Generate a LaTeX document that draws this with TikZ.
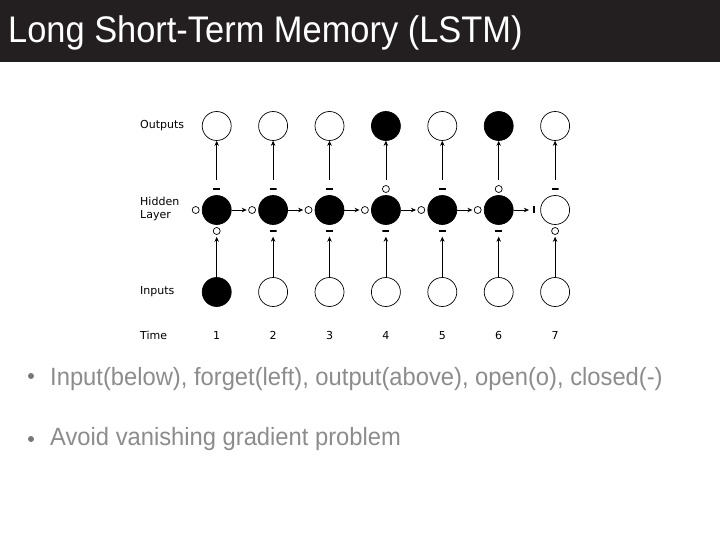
\documentclass[tikz,border=0pt]{standalone}
\usepackage{fontspec}
\setmainfont{Liberation Sans}
\newfontfamily\figfont{DejaVu Sans}
\usetikzlibrary{arrows.meta}
\definecolor{barbg}{RGB}{35,31,32}
\definecolor{bodygray}{RGB}{140,140,140}

\begin{document}
\begin{tikzpicture}[x=1pt,y=-1pt,
    unit/.style={circle,draw,line width=.7pt,minimum size=29pt,inner sep=0},
    gate-open/.style={circle,draw,line width=.7pt,minimum size=7pt,inner sep=0},
    gate-shut/.style={rectangle,minimum size=7pt,inner sep=0,
      path picture={\draw[line width=1.4pt] (path picture bounding box.west)--(path picture bounding box.east);}},
    gate-vshut/.style={rectangle,minimum size=7pt,inner sep=0,
      path picture={\draw[line width=1.4pt] (path picture bounding box.north)--(path picture bounding box.south);}},
    flow/.style={-{Stealth[length=5pt,width=4.5pt]},line width=.7pt},
    rowlabel/.style={anchor=west,align=left,inner sep=0,font=\figfont\fontsize{11}{13}\selectfont},
    bodytext/.style={anchor=base west,inner sep=0,text=bodygray,font=\fontsize{25}{28}\selectfont}]
    \useasboundingbox (0,0) rectangle (720,540);
    \fill[barbg] (0,0) rectangle (720,62);
    \node[anchor=base west,inner sep=0,text=white,font=\fontsize{37}{40}\selectfont] (title) at (8,43)
      {\scalebox{.93}[1]{Long Short-Term Memory (LSTM)}};
    % row labels
    \node[rowlabel] (lout) at (140,126) {Outputs};
    \node[rowlabel] (lhid) at (140,209) {Hidden\\Layer};
    \node[rowlabel] (linp) at (140,292) {Inputs};
    \node[rowlabel,anchor=base west] (ltim) at (140,339) {Time};
    % columns: output gate / forget gate / input gate / fills
    \foreach \k/\tg/\lg/\bg/\hc/\oc/\ic in {1/shut/open/open/black/white/black,
        2/shut/open/shut/black/white/white, 3/shut/open/shut/black/white/white,
        4/open/open/shut/black/black/white, 5/shut/open/shut/black/white/white,
        6/open/open/shut/black/black/white, 7/shut/vshut/open/white/white/white}{
      \pgfmathsetmacro\cx{216.7+(\k-1)*56.4}
      \node[unit,fill=\oc] (o\k) at (\cx,126) {};
      \node[unit,fill=\hc] (h\k) at (\cx,210) {};
      \node[unit,fill=\ic] (i\k) at (\cx,292) {};
      \node[gate-\tg] (og\k) at (\cx,189) {};
      \node[gate-\lg] (fg\k) at (\cx-21,210) {};
      \node[gate-\bg] (ig\k) at (\cx,231) {};
      \node[rowlabel,anchor=base] (t\k) at (\cx,339) {\k};
      \draw[flow,shorten <=5pt] (og\k) -- (o\k);
      \draw[flow,shorten >=2pt] (i\k) -- (ig\k);
    }
    \foreach \k [evaluate=\k as \n using int(\k+1)] in {1,...,6}
      \draw[flow,shorten >=1.5pt] (h\k) -- (fg\n);
    % bullets
    \fill[bodygray!85!black] (31,376) circle (3);
    \node[bodytext] (b1) at (50,385)
      {\scalebox{.95}[1]{Input(below), forget(left), output(above), open(o), closed(-)}};
    \fill[bodygray!85!black] (31,439) circle (3);
    \node[bodytext] (b2) at (50,445) {\scalebox{.95}[1]{Avoid vanishing gradient problem}};
\end{tikzpicture}
\end{document}
